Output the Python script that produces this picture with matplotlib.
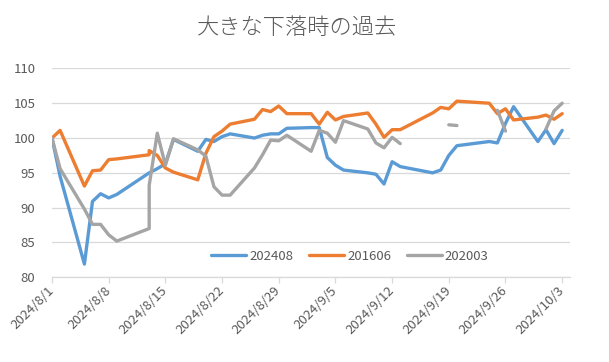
'''
大きな下落時の過去 - 3 drawdowns lined up on the 2024 trading calendar
'''

import numpy as np
import pandas as pd
import matplotlib
matplotlib.use('Agg')
import matplotlib.pyplot as plt

plt.rcParams['font.family'] = ['Noto Sans CJK JP', 'DejaVu Sans']

# 2024 rows (8/13 appears twice in the source sheet)
dates = ['2024-08-01', '2024-08-02', '2024-08-05', '2024-08-06', '2024-08-07',
         '2024-08-08', '2024-08-09', '2024-08-13', '2024-08-13', '2024-08-14',
         '2024-08-15', '2024-08-16', '2024-08-19', '2024-08-20', '2024-08-21',
         '2024-08-22', '2024-08-23', '2024-08-26', '2024-08-27', '2024-08-28',
         '2024-08-29', '2024-08-30', '2024-09-02', '2024-09-03', '2024-09-04',
         '2024-09-05', '2024-09-06', '2024-09-09', '2024-09-10', '2024-09-11',
         '2024-09-12', '2024-09-13', '2024-09-17', '2024-09-18', '2024-09-19',
         '2024-09-20', '2024-09-24', '2024-09-25', '2024-09-26', '2024-09-27',
         '2024-09-30', '2024-10-01', '2024-10-02', '2024-10-03']

s202408 = [100.0, 94.5, 81.9, 90.9, 92.0, 91.4, 91.9, np.nan, 95.0, 95.6,
           96.3, 99.8, 98.1, 99.8, 99.5, 100.2, 100.6, 100.0, 100.4, 100.6,
           100.6, 101.4, 101.5, 101.5, 97.2, 96.1, 95.4, 95.0, 94.8, 93.4,
           96.6, 95.9, 95.0, 95.4, 97.5, 98.9, 99.5, 99.3, 102.1, 104.5,
           99.5, 101.2, 99.2, 101.1]

s201606 = [100.0, 101.1, 93.1, 95.3, 95.4, 96.9, 97.0, 97.6, 98.2, 97.5,
           95.7, 95.1, 94.0, 97.8, 100.2, 101.0, 102.0, 102.7, 104.1, 103.8,
           104.6, 103.5, 103.5, 102.0, 103.7, 102.6, 103.1, 103.6, 102.0, 100.1,
           101.2, 101.2, 103.6, 104.4, 104.2, 105.3, 105.0, 103.5, 104.2, 102.6,
           103.0, 103.3, 102.7, 103.5]

s202003 = [100.0, 95.6, 89.8, 87.6, 87.6, 86.1, 85.2, 87.0, 93.2, 100.7,
           96.1, 99.9, 98.3, 97.4, 93.0, 91.8, 91.8, 95.7, 97.6, 99.7,
           99.6, 100.4, 98.1, 101.1, 100.7, 99.4, 102.5, 101.3, 99.3, 98.6,
           100.1, 99.2, np.nan, np.nan, 101.9, 101.8, np.nan, 104.0, 101.0, np.nan,
           np.nan, 101.3, 103.9, 105.0]

series_names = ['202408', '201606', '202003']
series_colors = ['#5B9BD5', '#ED7D31', '#A5A5A5']

tick_dates = ['2024-08-01', '2024-08-08', '2024-08-15', '2024-08-22', '2024-08-29',
              '2024-09-05', '2024-09-12', '2024-09-19', '2024-09-26', '2024-10-03']
tick_labels = ['2024/8/1', '2024/8/8', '2024/8/15', '2024/8/22', '2024/8/29',
               '2024/9/5', '2024/9/12', '2024/9/19', '2024/9/26', '2024/10/3']
y_ticks = [80, 85, 90, 95, 100, 105, 110]

TEXT = '#595959'
GRID = '#D9D9D9'


def main():
    x = pd.to_datetime(dates)
    fig = plt.figure(figsize=(6.09, 3.62), dpi=100)
    ax = fig.add_axes([0.0854, 0.234, 0.851, 0.577])

    # blue and orange connect over blanks, gray keeps its gaps
    b = np.array(s202408)
    ok = ~np.isnan(b)
    ax.plot(x[ok], b[ok], color=series_colors[0], lw=2.4, label=series_names[0],
            solid_joinstyle='round', solid_capstyle='round')
    ax.plot(x, s201606, color=series_colors[1], lw=2.4, label=series_names[1],
            solid_joinstyle='round', solid_capstyle='round')
    ax.plot(x, s202003, color=series_colors[2], lw=2.4, label=series_names[2],
            solid_joinstyle='round', solid_capstyle='round')

    ax.set_xlim(pd.Timestamp('2024-08-01'), pd.Timestamp('2024-10-04'))
    ax.set_ylim(80, 110)
    ax.set_yticks(y_ticks)
    ax.set_xticks(pd.to_datetime(tick_dates))
    ax.set_xticklabels(tick_labels, rotation=45, ha='right', va='center',
                       rotation_mode='anchor')

    ax.grid(axis='y', color=GRID, lw=0.9)
    ax.set_axisbelow(True)
    for side in ['top', 'right', 'left']:
        ax.spines[side].set_visible(False)
    ax.spines['bottom'].set_color(GRID)
    ax.spines['bottom'].set_linewidth(0.9)
    ax.tick_params(axis='y', length=0, pad=12, labelsize=9.5, labelcolor=TEXT)
    ax.tick_params(axis='x', length=4, color=GRID, width=0.9, pad=4,
                   labelsize=9.5, labelcolor=TEXT)

    fig.text(0.488, 0.923, '大きな下落時の過去', ha='center', va='center',
             fontsize=16, color=TEXT, fontweight='light')

    ax.legend(loc='center', bbox_to_anchor=(0.575, 0.099), ncol=3, frameon=False,
              fontsize=9.5, labelcolor=TEXT, handlelength=2.65, handletextpad=0.23,
              columnspacing=1.2)

    fig.savefig('out.png', dpi=100)


if __name__ == '__main__':
    main()
